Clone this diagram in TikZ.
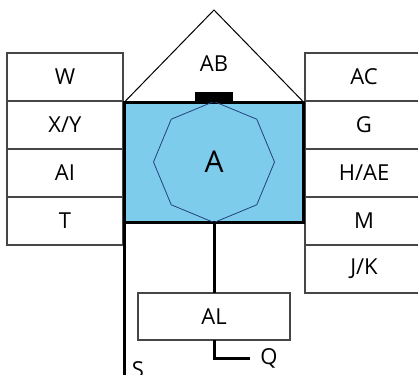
\documentclass[tikz,border=0pt]{standalone}
\usepackage{fontspec}
\setmainfont{Open Sans}
\usetikzlibrary{positioning,shapes.geometric}
\definecolor{panelblue}{RGB}{125,204,236}
\definecolor{octline}{RGB}{35,65,125}
\definecolor{boxline}{RGB}{70,70,70}

\begin{document}
\begin{tikzpicture}[x=1pt,y=-1pt,
    cell/.style={draw=boxline, line width=1.1pt, minimum width=116pt, minimum height=48pt, inner sep=0pt, outer sep=0pt, font=\fontsize{22}{24}\selectfont},
    heavy/.style={line width=3pt},
    lbl/.style={inner sep=0pt, font=\fontsize{22}{24}\selectfont}
]
\useasboundingbox (0,0) rectangle (418,375);

% left column
\node[cell] (w) at (65,77) {W};
\node[cell, below=0pt of w] (xy) {X/Y};
\node[cell, below=0pt of xy] (ai) {AI};
\node[cell, below=0pt of ai] (t) {T};

% right column (runs past the edge)
\node[cell, minimum width=118pt] (ac) at (364,77) {AC};
\node[cell, minimum width=118pt, below=0pt of ac] (g) {G};
\node[cell, minimum width=118pt, below=0pt of g] (hae) {H/AE};
\node[cell, minimum width=118pt, below=0pt of hae] (m) {M};
\node[cell, minimum width=118pt, below=0pt of m] (jk) {J/K};

% centre panel with roof
\node[draw, heavy, fill=panelblue, minimum width=179pt, minimum height=120pt, outer sep=0pt] (panel) at (214,162) {};
\node[regular polygon, regular polygon sides=8, shape border rotate=22.5, draw=octline, line width=0.8pt, minimum size=121pt, inner sep=0pt, outer sep=0pt, font=\fontsize{30}{32}\selectfont] (a) at (214,162) {A};
\node[fill=black, minimum width=38pt, minimum height=10pt, inner sep=0pt, outer sep=0pt, anchor=south] (tab) at (panel.north) {};
\coordinate (apex) at (214,10);
\draw[line width=1pt] (panel.north west) -- (apex) -- (panel.north east);
\node[lbl] (ab) at (214,64) {AB};

% lower part
\node[cell, minimum width=152pt, minimum height=47pt] (al) at (214,316.5) {AL};
\draw[heavy] (panel.south) -- (al.north);
\node[lbl, inner xsep=10pt] (q) at (269,358) {Q};
\draw[heavy] (al) |- (q);
\coordinate (sfoot) at (124.5,380);
\draw[heavy] (panel.south west) -- (sfoot);
\node[lbl] (s) at (138,370) {S};
\end{tikzpicture}
\end{document}
